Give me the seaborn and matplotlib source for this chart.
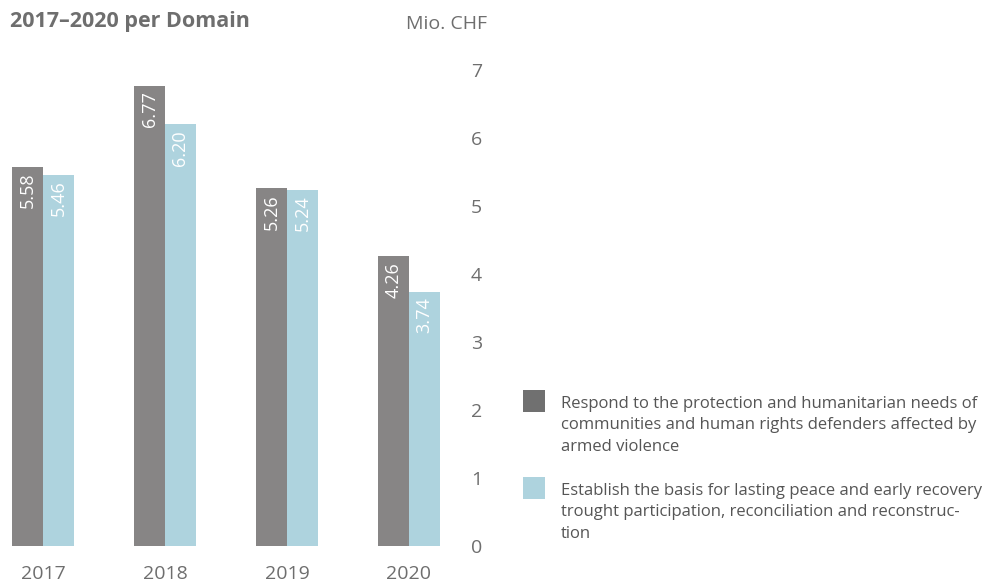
import matplotlib
matplotlib.use("Agg")
import matplotlib.pyplot as plt
from matplotlib.patches import Rectangle
import seaborn as sns
import pandas as pd

years = ["2017", "2018", "2019", "2020"]
domain_a = [5.58, 6.77, 5.26, 4.26]
domain_b = [5.46, 6.20, 5.24, 3.74]
labels = [
    "Respond to the protection and humanitarian needs of\ncommunities and human rights defenders affected by\narmed violence",
    "Establish the basis for lasting peace and early recovery\ntrought participation, reconciliation and reconstruc-\ntion",
]
yticks = [0, 1, 2, 3, 4, 5, 6, 7]

sns.set_theme(style="white")
plt.rcParams["font.family"] = ["Open Sans", "DejaVu Sans"]

TXT = "#6e6e6e"
C_DARK = "#878585"
C_LIGHT = "#aed3de"

df = pd.DataFrame({
    "year": years * 2,
    "value": domain_a + domain_b,
    "domain": [labels[0]] * 4 + [labels[1]] * 4,
})

W, H = 992, 586
fig = plt.figure(figsize=(W / 100, H / 100), dpi=100)
ax = fig.add_axes([0, (H - 546) / H, 460 / W, (546 - 70) / H])

sns.barplot(data=df, x="year", y="value", hue="domain", order=years,
            hue_order=labels, palette=[C_DARK, C_LIGHT], width=0.508,
            gap=0, saturation=1, ax=ax, legend=False, errorbar=None,
            linewidth=0, edgecolor="none")

ax.set_xlim(-43 / 122, (460 - 43) / 122)
ax.set_ylim(0, 7)
ax.set_yticks(yticks)
ax.yaxis.tick_right()
ax.tick_params(axis="y", length=0, pad=8, labelsize=14, labelcolor=TXT)
ax.tick_params(axis="x", length=0, pad=14, labelsize=14, labelcolor=TXT)
ax.set_xlabel("")
ax.set_ylabel("")
for s in ax.spines.values():
    s.set_visible(False)

for cont in ax.containers:
    for p in cont.patches:
        h = p.get_height()
        ax.annotate(f"{h:.2f}", (p.get_x() + p.get_width() / 2, h),
                    xytext=(0, -4), textcoords="offset points",
                    rotation=90, ha="center", va="top",
                    color="white", fontsize=13)

# legend (manual, square aligned with first line)
leg_colors = ["#707070", C_LIGHT]
leg_tops = [390, 477]
for lab, col, top in zip(labels, leg_colors, leg_tops):
    fig.patches.append(Rectangle((523 / W, 1 - (top + 22) / H), 22 / W, 22 / H,
                                 transform=fig.transFigure, facecolor=col,
                                 edgecolor="none"))
    fig.text(561 / W, 1 - (top + 6) / H, lab, fontsize=12, color="#555555",
             ha="left", va="top", linespacing=1.45)

fig.text(10 / W, 1 - 21 / H, "2017–2020 per Domain", fontsize=15.5,
         fontweight="bold", color=TXT, va="center", ha="left")
fig.text(487 / W, 1 - 24 / H, "Mio. CHF", fontsize=14, color=TXT,
         va="center", ha="right")

fig.savefig("out.png", dpi=100)
